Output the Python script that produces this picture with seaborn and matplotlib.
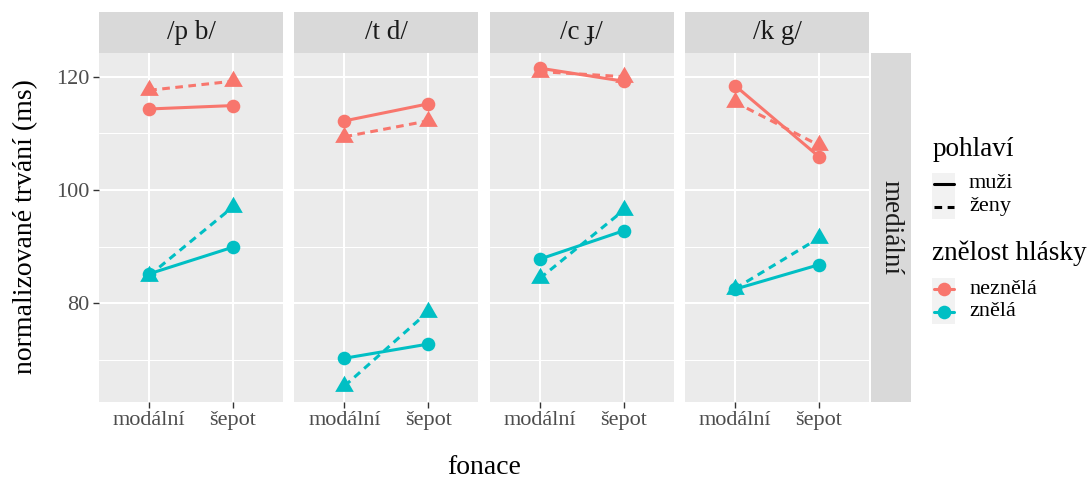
import numpy as np
import pandas as pd
import matplotlib
matplotlib.use("Agg")
import matplotlib.pyplot as plt
import seaborn as sns
from matplotlib.lines import Line2D
from matplotlib.patches import Rectangle

# ---------------- data ----------------
souhlasky = ["/p b/", "/t d/", "/c ɟ/", "/k g/"]
fonace = ["modální", "šepot"]
# values per consonant pair: [modální, šepot]
neznela_muzi = [[114.3, 114.9], [112.2, 115.2], [121.5, 119.2], [118.4, 105.9]]
neznela_zeny = [[117.6, 119.2], [109.4, 112.2], [120.9, 120.0], [115.5, 107.9]]
znela_muzi = [[85.2, 89.9], [70.3, 72.8], [87.8, 92.8], [82.5, 86.8]]
znela_zeny = [[84.9, 97.0], [65.4, 78.5], [84.4, 96.4], [82.6, 91.5]]
radek = "mediální"
y_ticks = [80, 100, 120]
y_minor = [70, 90, 110]

rows = []
for series, zn, po in [(neznela_muzi, "neznělá", "muži"),
                       (neznela_zeny, "neznělá", "ženy"),
                       (znela_muzi, "znělá", "muži"),
                       (znela_zeny, "znělá", "ženy")]:
    for s, vals in zip(souhlasky, series):
        for f, v in zip(fonace, vals):
            rows.append(dict(souhlaska=s, fonace=f, trvani=v, znelost=zn, pohlavi=po))
df = pd.DataFrame(rows)

palette = {"neznělá": "#F8766D", "znělá": "#00BFC4"}
TRI = [(0, 1), (-0.866, -0.5), (0.866, -0.5)]

sns.set_theme(style="darkgrid")
plt.rcParams["font.family"] = ["Liberation Serif", "DejaVu Serif"]

W, H = 1088, 483
fig = plt.figure(figsize=(W / 100, H / 100), dpi=100)

def fx(x):
    return x / W

def fy(y):
    return 1 - y / H

ptop, pbot = 53.0, 401.7
pw = 184.0
lefts = [99.0, 294.3, 489.7, 685.0]
ylim = (62.63, 124.18)

for i, s in enumerate(souhlasky):
    ax = fig.add_axes([fx(lefts[i]), fy(pbot), pw / W, (pbot - ptop) / H])
    ax.set_facecolor("#EBEBEB")
    sub = df[df.souhlaska == s]
    m = sub[sub.pohlavi == "muži"]
    z = sub[sub.pohlavi == "ženy"]
    sns.lineplot(data=z, x="fonace", y="trvani", hue="znelost", palette=palette,
                 marker=TRI, markersize=15.5, markeredgewidth=0, linewidth=2.2,
                 linestyle=(0, (2.5, 1.8)), legend=False, ax=ax, zorder=3)
    sns.lineplot(data=m, x="fonace", y="trvani", hue="znelost", palette=palette,
                 marker="o", markersize=9.8, markeredgewidth=0, linewidth=2.2,
                 legend=False, ax=ax, zorder=4)
    ax.set_xlim(-0.6, 1.6)
    ax.set_ylim(*ylim)
    ax.set_yticks(y_ticks)
    ax.set_yticks(y_minor, minor=True)
    ax.set_xticks([0, 1])
    ax.set_xticklabels(fonace)
    ax.grid(which="major", color="white", linewidth=1.5)
    ax.grid(which="minor", axis="y", color="white", linewidth=0.75)
    ax.set_axisbelow(True)
    for sp in ax.spines.values():
        sp.set_visible(False)
    ax.set_xlabel("")
    ax.set_ylabel("")
    ax.tick_params(axis="x", which="major", length=4.3, width=1.0, color="#333333",
                   labelsize=16, labelcolor="#4D4D4D", pad=2.5, bottom=True)
    ax.tick_params(axis="y", which="major", length=4.3, width=1.0, color="#333333",
                   labelsize=16, labelcolor="#4D4D4D", pad=2.5, left=True)
    ax.tick_params(axis="y", which="minor", length=0)
    if i > 0:
        ax.tick_params(axis="y", which="major", labelleft=False, length=0)
    # top strip
    sax = fig.add_axes([fx(lefts[i]), fy(ptop), pw / W, (ptop - 12.3) / H])
    sax.set_facecolor("#D9D9D9")
    sax.set_xticks([]); sax.set_yticks([])
    sax.grid(False)
    for sp in sax.spines.values():
        sp.set_visible(False)
    sax.text(0.5, 0.5, s, ha="center", va="center", fontsize=19.5, color="#1A1A1A",
             transform=sax.transAxes)

# right strip
rax = fig.add_axes([fx(870.6), fy(pbot), (910.7 - 870.6) / W, (pbot - ptop) / H])
rax.set_facecolor("#D9D9D9")
rax.set_xticks([]); rax.set_yticks([])
rax.grid(False)
for sp in rax.spines.values():
    sp.set_visible(False)
rax.text(0.5, 0.5, radek, ha="center", va="center", rotation=-90, fontsize=19.5,
         color="#1A1A1A", transform=rax.transAxes)

# axis titles
fig.text(fx(484), fy(468), "fonace", ha="center", va="center", fontsize=20, color="black")
fig.text(fx(26), fy(227), "normalizované trvání (ms)", ha="center", va="center",
         rotation=90, fontsize=20, color="black")

# legend
fig.text(fx(932.5), fy(149), "pohlaví", ha="left", va="center", fontsize=19.5, color="black")
for k, (lab, ls) in enumerate([("muži", "-"), ("ženy", (0, (2.5, 1.8)))]):
    yc = 184 + k * 23
    fig.add_artist(Rectangle((fx(932), fy(yc + 11.5)), 23 / W, 23 / H,
                             facecolor="#F2F2F2", edgecolor="none", transform=fig.transFigure))
    fig.add_artist(Line2D([fx(933.5), fx(954)], [fy(yc), fy(yc)], color="black",
                          linewidth=2.2, linestyle=ls, transform=fig.transFigure))
    fig.text(fx(969), fy(yc), lab, ha="left", va="center", fontsize=16, color="black")

fig.text(fx(932.5), fy(253), "znělost hlásky", ha="left", va="center", fontsize=19.5, color="black")
for k, lab in enumerate(["neznělá", "znělá"]):
    yc = 289 + k * 23
    fig.add_artist(Rectangle((fx(932), fy(yc + 11.5)), 23 / W, 23 / H,
                             facecolor="#F2F2F2", edgecolor="none", transform=fig.transFigure))
    fig.add_artist(Line2D([fx(933.5), fx(954)], [fy(yc), fy(yc)], color=palette[lab],
                          linewidth=2.2, transform=fig.transFigure))
    fig.add_artist(Line2D([fx(943.5)], [fy(yc)], color=palette[lab], marker="o",
                          markersize=9.8, markeredgewidth=0, linestyle="none",
                          transform=fig.transFigure))
    fig.text(fx(969), fy(yc), lab, ha="left", va="center", fontsize=16, color="black")

fig.savefig("out.png", dpi=100, facecolor="white")
